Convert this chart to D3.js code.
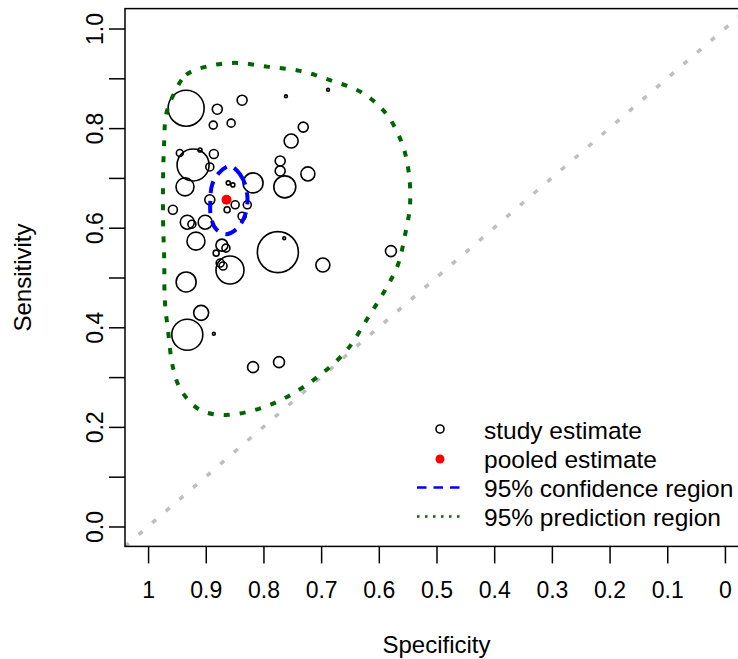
<!DOCTYPE html>
<html>
<head>
<meta charset="utf-8">
<script src="https://cdn.jsdelivr.net/npm/d3@7"></script>
<style>
	body { margin: 0; background: #fff; }
	svg { display: block; font-family: "Liberation Sans", Arial, sans-serif; }
	.axis text { font-size: 23px; fill: #000; }
	.axis line { stroke: #000; stroke-width: 1.5; }
</style>
</head>
<body>
<svg width="738" height="659"></svg>
<script>
// tick values / labels
const specTickValues = [1, 0.9, 0.8, 0.7, 0.6, 0.5, 0.4, 0.3, 0.2, 0.1, 0]
const specTickLabels = ['1', '0.9', '0.8', '0.7', '0.6', '0.5', '0.4', '0.3', '0.2', '0.1', '0']
const sensTickValues = [0, 0.1, 0.2, 0.3, 0.4, 0.5, 0.6, 0.7, 0.8, 0.9, 1]
const sensTickLabels = ['0.0', '', '0.2', '', '0.4', '', '0.6', '', '0.8', '', '1.0']

// study estimates (specificity, sensitivity, relative weight)
const studySpec = [0.934, 0.880, 0.837, 0.887, 0.856, 0.761, 0.688, 0.731, 0.752, 0.771, 0.771, 0.763, 0.723, 0.818, 0.922, 0.945,
	0.886, 0.910, 0.893, 0.936, 0.861, 0.853, 0.893, 0.849, 0.863, 0.828, 0.837, 0.957, 0.932, 0.924, 0.901, 0.917,
	0.872, 0.882, 0.865, 0.875, 0.858, 0.775, 0.764, 0.697, 0.579, 0.934, 0.908, 0.932, 0.886, 0.818, 0.773, 0.870]
const studySens = [0.840, 0.838, 0.856, 0.806, 0.810, 0.864, 0.877, 0.802, 0.774, 0.734, 0.714, 0.682, 0.708, 0.690, 0.726, 0.750,
	0.748, 0.756, 0.722, 0.682, 0.690, 0.686, 0.656, 0.646, 0.636, 0.646, 0.623, 0.636, 0.611, 0.607, 0.611, 0.573,
	0.565, 0.549, 0.559, 0.529, 0.515, 0.551, 0.579, 0.525, 0.553, 0.491, 0.429, 0.385, 0.387, 0.320, 0.330, 0.523]
const studyWeight = [324, 25, 25, 16, 16, 2, 2, 25, 49, 25, 25, 121, 49, 100, 256, 12,
	20, 4, 16, 81, 4, 4, 25, 16, 9, 16, 16, 20, 49, 16, 49, 81,
	36, 9, 16, 16, 196, 420, 2, 49, 30, 100, 56, 240, 2, 30, 30, 16]

// pooled estimate
const pooledSpec = 0.864
const pooledSens = 0.656

// 95% confidence region outline
const confSpec = [0.858, 0.841, 0.830, 0.828, 0.834, 0.847, 0.865, 0.882, 0.891, 0.892, 0.889, 0.877]
const confSens = [0.724, 0.708, 0.680, 0.646, 0.619, 0.597, 0.587, 0.597, 0.621, 0.656, 0.686, 0.710]

// 95% prediction region outline
const predSpec = [0.958, 0.934, 0.893, 0.846, 0.792, 0.737, 0.681, 0.629, 0.588, 0.560, 0.548, 0.546, 0.555, 0.567, 0.589, 0.619,
	0.657, 0.709, 0.763, 0.815, 0.867, 0.910, 0.943, 0.957, 0.965, 0.971, 0.972, 0.974, 0.974, 0.972, 0.969]
const predSens = [0.862, 0.907, 0.925, 0.931, 0.923, 0.915, 0.895, 0.871, 0.830, 0.770, 0.710, 0.644, 0.583, 0.525, 0.475, 0.419,
	0.352, 0.298, 0.258, 0.234, 0.224, 0.234, 0.274, 0.320, 0.389, 0.455, 0.535, 0.616, 0.700, 0.776, 0.826]

const legendLabels = ['study estimate', 'pooled estimate', '95% confidence region', '95% prediction region']

function app() {
	const svg = d3.select('svg')
	const left = 125, right = 748, top = 8.6, bottom = 546.4

	let xScale = d3.scaleLinear().domain([1.04, -0.04]).range([left, right])
	let yScale = d3.scaleLinear().domain([-0.04, 1.04]).range([bottom, top])
	let rScale = d3.scaleSqrt().domain([0, d3.max(studyWeight)]).range([0, 20.5])

	svg.append('clipPath').attr('id', 'plot-clip')
		.append('rect')
		.attr('x', left).attr('y', top)
		.attr('width', right - left).attr('height', bottom - top)

	let plot = svg.append('g').attr('clip-path', 'url(#plot-clip)')

	// chance line
	plot.append('line')
		.attr('x1', xScale(1.04)).attr('y1', yScale(-0.04))
		.attr('x2', xScale(-0.04)).attr('y2', yScale(1.04))
		.attr('stroke', '#bebebe')
		.attr('stroke-width', 3.5)
		.attr('stroke-dasharray', '5 13')

	// studies
	plot.append('g').attr('id', 'circles')
		.selectAll('circle')
		.data(studySpec.map((s, i) => ({ spec: s, sens: studySens[i], w: studyWeight[i] })))
		.enter()
		.append('circle')
		.attr('cx', d => xScale(d.spec))
		.attr('cy', d => yScale(d.sens))
		.attr('r', d => rScale(d.w))
		.attr('fill', 'none')
		.attr('stroke', '#000')
		.attr('stroke-width', 1.6)

	let line = d3.line()
		.x(d => xScale(d[0]))
		.y(d => yScale(d[1]))
		.curve(d3.curveCatmullRomClosed)

	plot.append('circle')
		.attr('cx', xScale(pooledSpec))
		.attr('cy', yScale(pooledSens))
		.attr('r', 5)
		.attr('fill', 'red')

	plot.append('path')
		.datum(confSpec.map((s, i) => [s, confSens[i]]))
		.attr('d', line)
		.attr('fill', 'none')
		.attr('stroke', 'blue')
		.attr('stroke-width', 4)
		.attr('stroke-dasharray', '12 8')

	plot.append('path')
		.datum(predSpec.map((s, i) => [s, predSens[i]]))
		.attr('d', line)
		.attr('fill', 'none')
		.attr('stroke', '#006400')
		.attr('stroke-width', 4)
		.attr('stroke-dasharray', '6 10')

	// box
	svg.append('rect')
		.attr('x', left).attr('y', top)
		.attr('width', right - left).attr('height', bottom - top)
		.attr('fill', 'none')
		.attr('stroke', '#000')
		.attr('stroke-width', 1.5)

	// axes
	let bottomAxis = d3.axisBottom(xScale)
		.tickValues(specTickValues)
		.tickFormat((d, i) => specTickLabels[i])
		.tickSize(17)
		.tickSizeOuter(0)
	let bottomAxisG = svg.append('g')
		.attr('class', 'axis')
		.attr('transform', `translate(0, ${bottom})`)
		.call(bottomAxis)
	bottomAxisG.select('.domain').remove()
	bottomAxisG.selectAll('text').attr('y', 52).attr('dy', 0)

	let leftAxis = d3.axisLeft(yScale)
		.tickValues(sensTickValues)
		.tickFormat((d, i) => sensTickLabels[i])
		.tickSize(16)
		.tickSizeOuter(0)
	let leftAxisG = svg.append('g')
		.attr('class', 'axis')
		.attr('transform', `translate(${left}, 0)`)
		.call(leftAxis)
	leftAxisG.select('.domain').remove()
	leftAxisG.selectAll('text')
		.attr('transform', 'rotate(-90)')
		.attr('x', 0).attr('y', -22).attr('dy', 0)
		.attr('text-anchor', 'middle')

	// axis titles
	svg.append('text')
		.attr('x', xScale(0.5)).attr('y', 653)
		.attr('text-anchor', 'middle')
		.attr('font-size', 24)
		.text('Specificity')
	svg.append('text')
		.attr('transform', `translate(31, ${yScale(0.5)}) rotate(-90)`)
		.attr('text-anchor', 'middle')
		.attr('font-size', 24)
		.text('Sensitivity')

	// legend
	let legend = svg.append('g').attr('id', 'legend')
	let rowY = [439, 468, 497, 526]
	legend.selectAll('text')
		.data(legendLabels)
		.enter()
		.append('text')
		.attr('x', 484)
		.attr('y', (d, i) => rowY[i])
		.attr('font-size', 24.5)
		.text(d => d)
	legend.append('circle')
		.attr('cx', 440).attr('cy', rowY[0] - 10).attr('r', 4)
		.attr('fill', 'none').attr('stroke', '#000').attr('stroke-width', 1.6)
	legend.append('circle')
		.attr('cx', 440).attr('cy', rowY[1] - 9).attr('r', 4.5)
		.attr('fill', 'red')
	legend.append('line')
		.attr('x1', 417).attr('x2', 461).attr('y1', rowY[2] - 9.5).attr('y2', rowY[2] - 9.5)
		.attr('stroke', 'blue').attr('stroke-width', 2.5).attr('stroke-dasharray', '9.5 7')
	legend.append('line')
		.attr('x1', 417).attr('x2', 463).attr('y1', rowY[3] - 9.5).attr('y2', rowY[3] - 9.5)
		.attr('stroke', '#006400').attr('stroke-width', 2.5).attr('stroke-dasharray', '2.5 5.5')
}

app()
</script>
</body>
</html>
